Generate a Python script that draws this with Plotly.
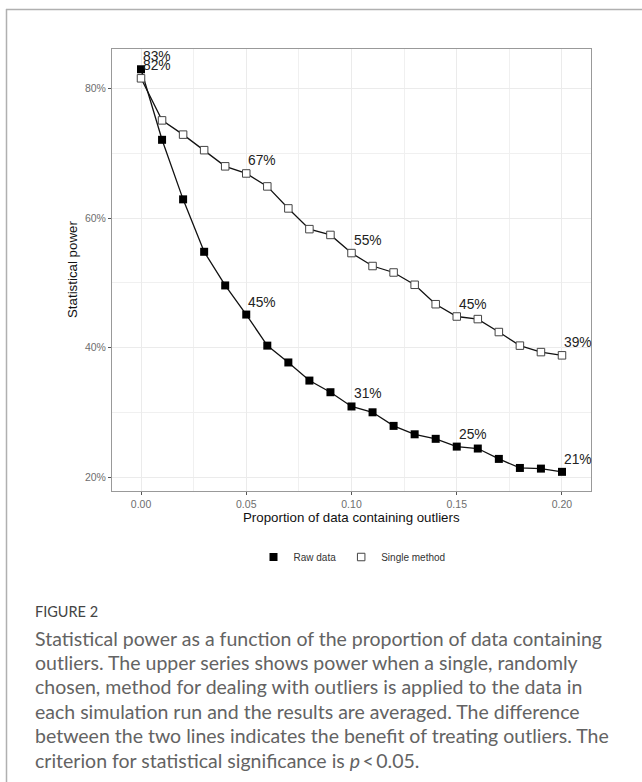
import plotly.graph_objects as go

# ---------------- data ----------------
proportion = [0.00, 0.01, 0.02, 0.03, 0.04, 0.05, 0.06, 0.07, 0.08, 0.09, 0.10,
              0.11, 0.12, 0.13, 0.14, 0.15, 0.16, 0.17, 0.18, 0.19, 0.20]
raw_power = [83.0, 72.1, 62.9, 54.8, 49.6, 45.1, 40.3, 37.7, 34.9, 33.1, 30.9,
             30.0, 27.9, 26.6, 25.9, 24.7, 24.4, 22.8, 21.4, 21.3, 20.8]
single_power = [81.6, 75.1, 72.9, 70.5, 68.0, 66.9, 64.9, 61.5, 58.3, 57.4, 54.6,
                52.6, 51.6, 49.7, 46.7, 44.8, 44.4, 42.4, 40.3, 39.3, 38.8]
label_idx = [0, 5, 10, 15, 20]
raw_labels = ["83%", "45%", "31%", "25%", "21%"]
single_labels = ["82%", "67%", "55%", "45%", "39%"]
x_ticks = [0.00, 0.05, 0.10, 0.15, 0.20]
x_ticktext = ["0.00", "0.05", "0.10", "0.15", "0.20"]
y_ticks = [20, 40, 60, 80]
y_ticktext = ["20%", "40%", "60%", "80%"]
series_names = ["Raw data", "Single method"]
caption_head = "FIGURE 2"
caption_lines = [
    "Statistical power as a function of the proportion of data containing",
    "outliers. The upper series shows power when a single, randomly",
    "chosen, method for dealing with outliers is applied to the data in",
    "each simulation run and the results are averaged. The difference",
    "between the two lines indicates the benefit of treating outliers. The",
    "criterion for statistical significance is <i>p</i>\u2009<\u20090.05.",
]

# ---------------- layout geometry (pixels) ----------------
W, H = 642, 782
L, R, T, B = 112, 591, 49, 491


def px(x):
    return (x - L) / (R - L)


def py(y):
    return (B - y) / (B - T)


fig = go.Figure()

# lines
fig.add_trace(go.Scatter(x=proportion, y=single_power, mode="lines",
                         line=dict(color="#111111", width=1.3),
                         showlegend=False, hoverinfo="skip"))
fig.add_trace(go.Scatter(x=proportion, y=raw_power, mode="lines",
                         line=dict(color="#111111", width=1.3),
                         showlegend=False, hoverinfo="skip"))
# markers
fig.add_trace(go.Scatter(x=proportion, y=raw_power, mode="markers",
                         name=series_names[0],
                         marker=dict(symbol="square", size=8, color="#000000",
                                     line=dict(width=0))))
fig.add_trace(go.Scatter(x=proportion, y=single_power, mode="markers",
                         name=series_names[1],
                         marker=dict(symbol="square", size=7.5, color="#ffffff",
                                     line=dict(width=1, color="#444444"))))

annotations = []
for i, lab in zip(label_idx, raw_labels):
    annotations.append(dict(x=proportion[i], y=raw_power[i], xref="x", yref="y",
                            text=lab, showarrow=False, xanchor="left", yanchor="bottom",
                            yshift=3, xshift=0,
                            font=dict(family="Liberation Sans, Arial", size=13.8, color="#222222")))
for i, lab in zip(label_idx, single_labels):
    annotations.append(dict(x=proportion[i], y=single_power[i], xref="x", yref="y",
                            text=lab, showarrow=False, xanchor="left", yanchor="bottom",
                            yshift=3, xshift=0,
                            font=dict(family="Liberation Sans, Arial", size=13.8, color="#222222")))

# axis titles
annotations.append(dict(x=px(351), y=py(517), xref="paper", yref="paper",
                        text="Proportion of data containing outliers", showarrow=False,
                        xanchor="center", yanchor="middle",
                        font=dict(family="Liberation Sans, Arial", size=13.3, color="#111111")))
annotations.append(dict(x=px(72), y=py(270), xref="paper", yref="paper",
                        text="Statistical power", showarrow=False, textangle=-90,
                        xanchor="center", yanchor="middle",
                        font=dict(family="Liberation Sans, Arial", size=13.3, color="#111111")))

# caption
annotations.append(dict(x=px(33), y=py(611), xref="paper", yref="paper",
                        text=caption_head, showarrow=False, xanchor="left", yanchor="middle",
                        font=dict(family="Lato", size=14.5, color="#444444")))
for k, line in enumerate(caption_lines):
    annotations.append(dict(x=px(33), y=py(638 + 24.4 * k), xref="paper", yref="paper",
                            text=line, showarrow=False, xanchor="left", yanchor="middle",
                            font=dict(family="Lato", size=19.5, color="#636363")))

shapes = [
    dict(type="line", xref="paper", yref="paper", x0=px(6), x1=px(W + 5),
         y0=py(9.5), y1=py(9.5), line=dict(color="#b0b0b0", width=1.5)),
    dict(type="line", xref="paper", yref="paper", x0=px(6.5), x1=px(6.5),
         y0=py(9), y1=py(H + 5), line=dict(color="#b0b0b0", width=1.5)),
]

axis_font = dict(family="Liberation Sans, Arial", size=10.5, color="#6e6e6e")

fig.update_layout(
    width=W, height=H,
    margin=dict(l=L, r=W - R, t=T, b=H - B, pad=0),
    paper_bgcolor="white", plot_bgcolor="white",
    showlegend=True,
    legend=dict(orientation="h", x=px(352), xanchor="center", y=py(557), yanchor="middle",
                font=dict(family="Liberation Sans, Arial", size=10, color="#333333"),
                bgcolor="rgba(0,0,0,0)", itemwidth=30, tracegroupgap=0),
    annotations=annotations,
    shapes=shapes,
    xaxis=dict(range=[-0.01378, 0.21378], tickvals=x_ticks, ticktext=x_ticktext,
               showgrid=True, gridcolor="#ebebeb", gridwidth=1.1,
               minor=dict(tick0=0, dtick=0.025, showgrid=True, gridcolor="#f0f0f0", gridwidth=0.6),
               zeroline=False, showline=True, mirror=True, linecolor="#999999", linewidth=1,
               ticks="outside", ticklen=3, tickcolor="#555555", tickwidth=1,
               tickfont=axis_font, fixedrange=True),
    yaxis=dict(range=[17.84, 86.13], tickvals=y_ticks, ticktext=y_ticktext,
               showgrid=True, gridcolor="#ebebeb", gridwidth=1.1,
               minor=dict(tick0=0, dtick=10, showgrid=True, gridcolor="#f0f0f0", gridwidth=0.6),
               zeroline=False, showline=True, mirror=True, linecolor="#999999", linewidth=1,
               ticks="outside", ticklen=3, tickcolor="#555555", tickwidth=1,
               tickfont=axis_font, fixedrange=True),
)

fig.write_html("out.html")
